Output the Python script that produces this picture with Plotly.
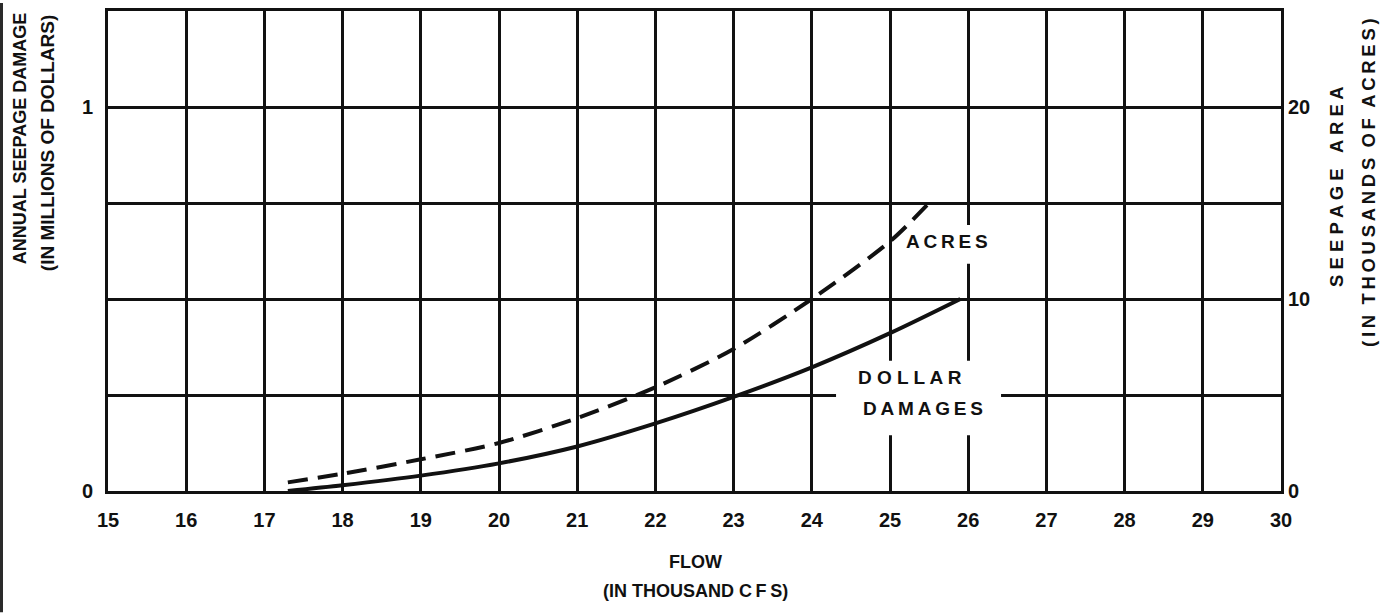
import plotly.graph_objects as go

# Flow in thousand cfs
flow_dollars = [17.3, 18, 19, 20, 21, 22, 23, 24, 25, 25.9]
# Annual seepage damage, millions of dollars
dollar_damage = [0.0, 0.015, 0.04, 0.072, 0.116, 0.176, 0.245, 0.322, 0.411, 0.5]

flow_acres = [17.3, 18, 19, 20, 21, 22, 23, 24, 25, 25.5]
# Seepage area, thousands of acres
seepage_acres = [0.45, 0.9, 1.65, 2.5, 3.8, 5.4, 7.4, 10.0, 13.0, 15.0]

x_ticks = list(range(15, 31))
left_grid = [0, 0.25, 0.5, 0.75, 1.0, 1.25]
left_labels = ["0", "", "", "", "1", ""]
right_ticks = [0, 10, 20]

W, H = 1390, 613
L, R, T, B = 108, 109, 8, 122
PW, PH = W - L - R, H - T - B

FONT = "Liberation Sans"
INK = "#111111"
THIN = "\u2009"


def paper(px, py):
    """Convert page pixel coordinates to paper coordinates."""
    return (px - L) / PW, (H - B - py) / PH


def spaced(text, sep=THIN, word_gap="\u00a0\u00a0"):
    return word_gap.join(sep.join(word) for word in text.split(" "))


fig = go.Figure()

fig.add_trace(go.Scatter(
    x=flow_dollars, y=dollar_damage, mode="lines",
    line=dict(color=INK, width=4, shape="spline", smoothing=0.8),
    showlegend=False, hoverinfo="skip",
))
fig.add_trace(go.Scatter(
    x=flow_acres, y=seepage_acres, mode="lines", yaxis="y2",
    line=dict(color=INK, width=4, dash="20px,10px", shape="spline", smoothing=0.8),
    showlegend=False, hoverinfo="skip",
))

shapes = [
    # white patches behind the curve labels (between grid and curves)
    dict(type="rect", xref="x", yref="y", x0=25.18, x1=26.35, y0=0.592, y1=0.693,
         fillcolor="white", line=dict(width=0), layer="between"),
    dict(type="rect", xref="x", yref="y", x0=24.31, x1=26.42, y0=0.145, y1=0.339,
         fillcolor="white", line=dict(width=0), layer="between"),
]
# dark strip along the left page edge
x0p, y0p = paper(0, H)
x1p, y1p = paper(3, 0)
shapes.append(dict(type="rect", xref="paper", yref="paper", x0=x0p, x1=x1p, y0=y0p, y1=y1p,
                   fillcolor="#2a2a2a", line=dict(width=0), layer="above"))

annotations = []


def add_text(text, px, py, size=19, angle=0):
    ax, ay = paper(px, py)
    annotations.append(dict(
        text=text, x=ax, y=ay, xref="paper", yref="paper", showarrow=False,
        textangle=angle, xanchor="center", yanchor="middle",
        font=dict(family=FONT, size=size, color=INK, weight=700),
    ))


add_text(spaced("ACRES"), 947, 240)
add_text(spaced("DOLLAR", " "), 910, 377)
add_text(spaced("DAMAGES"), 923, 408)

add_text("FLOW", 695, 562, size=18)
add_text("(IN THOUSAND C" + THIN + "F" + THIN + "S)", 695, 592, size=18)

add_text("ANNUAL SEEPAGE DAMAGE", 20, 137, size=18, angle=-90)
add_text("(IN MILLIONS OF DOLLARS)", 47, 141, size=19, angle=-90)

add_text(spaced("SEEPAGE AREA", " ", "\u00a0\u00a0\u00a0"), 1337, 185, size=18.5, angle=-90)
add_text(spaced("(IN THOUSANDS OF ACRES)"), 1369, 181, size=18.5, angle=-90)

tick_font = dict(family=FONT, size=20, color=INK, weight=700)

fig.update_layout(
    width=W, height=H, autosize=False,
    margin=dict(l=L, r=R, t=T, b=B, pad=0),
    paper_bgcolor="white", plot_bgcolor="white",
    font=dict(family=FONT, color=INK, size=19),
    xaxis=dict(
        range=[15, 30], tickvals=x_ticks, ticktext=[str(v) for v in x_ticks],
        showgrid=True, gridcolor=INK, gridwidth=2.5, zeroline=False,
        showline=True, linecolor=INK, linewidth=3, mirror=True,
        ticks="", ticklabelstandoff=9, tickfont=tick_font,
    ),
    yaxis=dict(
        range=[0, 1.25], tickvals=left_grid, ticktext=left_labels,
        showgrid=True, gridcolor=INK, gridwidth=2.5, zeroline=False,
        showline=True, linecolor=INK, linewidth=3, mirror=True,
        ticks="", ticklabelstandoff=8, tickfont=tick_font,
    ),
    yaxis2=dict(
        range=[0, 25], tickvals=right_ticks, ticktext=[str(v) for v in right_ticks],
        overlaying="y", side="right", showgrid=False, zeroline=False,
        showline=False, ticks="", ticklabelstandoff=6, tickfont=tick_font,
    ),
    shapes=shapes,
    annotations=annotations,
)

fig.write_html("out.html")
